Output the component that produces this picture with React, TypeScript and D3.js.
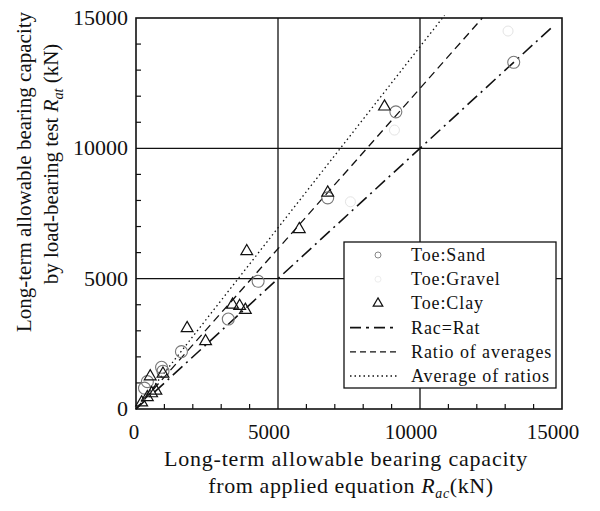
import React from "react";
import * as d3 from "d3";

const sandX = [13300, 9150, 6750, 4300, 3250, 1600, 900, 950, 400, 300];
const sandY = [13300, 11400, 8100, 4900, 3450, 2200, 1600, 1450, 1050, 800];
const clayX = [8750, 6750, 5750, 3900, 3400, 3650, 3850, 1800, 2450, 950, 500, 550, 700, 400, 200];
const clayY = [11600, 8300, 6900, 6050, 4000, 3950, 3800, 3100, 2600, 1350, 1250, 600, 700, 450, 250];
const gravelX = [7550, 9100, 13100];
const gravelY = [7950, 10700, 14500];
const majorTicks = [0, 5000, 10000, 15000];
const gridValues = [5000, 10000];
const minorTicks = [1000, 2000, 3000, 4000, 6000, 7000, 8000, 9000, 11000, 12000, 13000, 14000];
const slopeRatioOfAverages = 1.23;
const slopeAverageOfRatios = 1.39;
const legendLabels = ["Toe:Sand", "Toe:Gravel", "Toe:Clay", "Rac=Rat", "Ratio of averages", "Average of ratios"];

const L = 136, R = 562, T = 18, B = 409;
const FONT = "'Liberation Serif', 'DejaVu Serif', serif";

export default function App() {
  const x = d3.scaleLinear().domain([0, 15000]).range([L, R]);
  const y = d3.scaleLinear().domain([0, 15000]).range([B, T]);
  const line = d3.line<[number, number]>().x(d => x(d[0])).y(d => y(d[1]));
  const tri = d3.symbol().type(d3.symbolTriangle).size(60)() as string;

  const lines = [
    { pts: [[0, 0], [14650, 14650]] as [number, number][], dash: "13,5,2,5", w: 1.6 },
    { pts: [[0, 0], [15000 / slopeRatioOfAverages, 15000]] as [number, number][], dash: "8,5", w: 1.3 },
    { pts: [[0, 0], [15100 / slopeAverageOfRatios, 15100]] as [number, number][], dash: "1.5,3", w: 1.3 },
  ];

  const legX = 344, legY = 242, legW = 212, legH = 146;
  const rowY = (i: number) => 255 + i * 24.2;

  return (
    <svg width={600} height={511} style={{ display: "block", position: "absolute", left: 0, top: 0, background: "#fff" }} fontFamily={FONT}>
      <rect x={0} y={0} width={600} height={511} fill="#fff" />
      {/* grid */}
      {gridValues.map(v => (
        <g key={"g" + v}>
          <line x1={x(v)} x2={x(v)} y1={T} y2={B} stroke="#111" strokeWidth={1.3} />
          <line x1={L} x2={R} y1={y(v)} y2={y(v)} stroke="#111" strokeWidth={1.3} />
        </g>
      ))}
      {/* minor ticks */}
      {minorTicks.map(v => (
        <g key={"m" + v}>
          <line x1={x(v)} x2={x(v)} y1={B} y2={B - 5} stroke="#111" strokeWidth={1.2} />
          <line x1={L} x2={L + 5} y1={y(v)} y2={y(v)} stroke="#111" strokeWidth={1.2} />
        </g>
      ))}
      {/* lines */}
      {lines.map((l, i) => (
        <path key={"l" + i} d={line(l.pts) || ""} fill="none" stroke="#111" strokeWidth={l.w} strokeDasharray={l.dash} />
      ))}
      {/* points */}
      {gravelX.map((v, i) => (
        <circle key={"gr" + i} cx={x(v)} cy={y(gravelY[i])} r={5} fill="none" stroke="#e4e4e4" strokeWidth={1} />
      ))}
      {sandX.map((v, i) => (
        <circle key={"s" + i} cx={x(v)} cy={y(sandY[i])} r={6} fill="none" stroke="#777" strokeWidth={1.1} />
      ))}
      {clayX.map((v, i) => (
        <path key={"c" + i} d={tri} transform={`translate(${x(v)},${y(clayY[i])})`} fill="none" stroke="#111" strokeWidth={1.2} />
      ))}
      {/* frame */}
      <rect x={L} y={T} width={R - L} height={B - T} fill="none" stroke="#111" strokeWidth={1.6} />
      {/* tick labels */}
      {majorTicks.map(v => (
        <text key={"xt" + v} x={x(v)} dx={v === 0 ? -2 : -9} y={439} fontSize={21} textAnchor="middle" fill="#111">{v}</text>
      ))}
      {majorTicks.map(v => (
        <text key={"yt" + v} x={128} y={y(v) + 7} fontSize={22} textAnchor="end" fill="#111">{v}</text>
      ))}
      {/* axis titles */}
      <text x={346} y={466} fontSize={22} letterSpacing={0.8} textAnchor="middle" fill="#111">Long-term allowable bearing capacity</text>
      <text x={351} y={493} fontSize={22} letterSpacing={0.6} textAnchor="middle" fill="#111">
        from applied equation <tspan fontStyle="italic">R</tspan><tspan fontStyle="italic" fontSize={14} dy={5}>ac</tspan><tspan dy={-5}>(kN)</tspan>
      </text>
      <g transform="translate(31,172) rotate(-90)">
        <text x={0} y={0} fontSize={21} textAnchor="middle" fill="#111">Long-term allowable bearing capacity</text>
        <text x={8} y={27} fontSize={21} textAnchor="middle" fill="#111">
          by load-bearing test <tspan fontStyle="italic">R</tspan><tspan fontStyle="italic" fontSize={14} dy={5}>at</tspan><tspan dy={-5}> (kN)</tspan>
        </text>
      </g>
      {/* legend */}
      <rect x={legX} y={legY} width={legW} height={legH} fill="#fff" stroke="#111" strokeWidth={1.3} />
      {legendLabels.map((lab, i) => (
        <text key={"lt" + i} x={411} y={rowY(i) + 6} fontSize={18} letterSpacing={0.9} fill="#111">{lab}</text>
      ))}
      <circle cx={378} cy={rowY(0)} r={3} fill="none" stroke="#888" strokeWidth={1} />
      <circle cx={378} cy={rowY(1)} r={3} fill="none" stroke="#eee" strokeWidth={1} />
      <path d={d3.symbol().type(d3.symbolTriangle).size(40)() as string} transform={`translate(378,${rowY(2)})`} fill="none" stroke="#111" strokeWidth={1.2} />
      {lines.map((l, i) => (
        <line key={"ll" + i} x1={350} x2={398} y1={rowY(3 + i)} y2={rowY(3 + i)} stroke="#111" strokeWidth={l.w} strokeDasharray={i === 0 ? "11,5,3,5" : i === 1 ? "6,4" : "1.5,3"} />
      ))}
    </svg>
  );
}
